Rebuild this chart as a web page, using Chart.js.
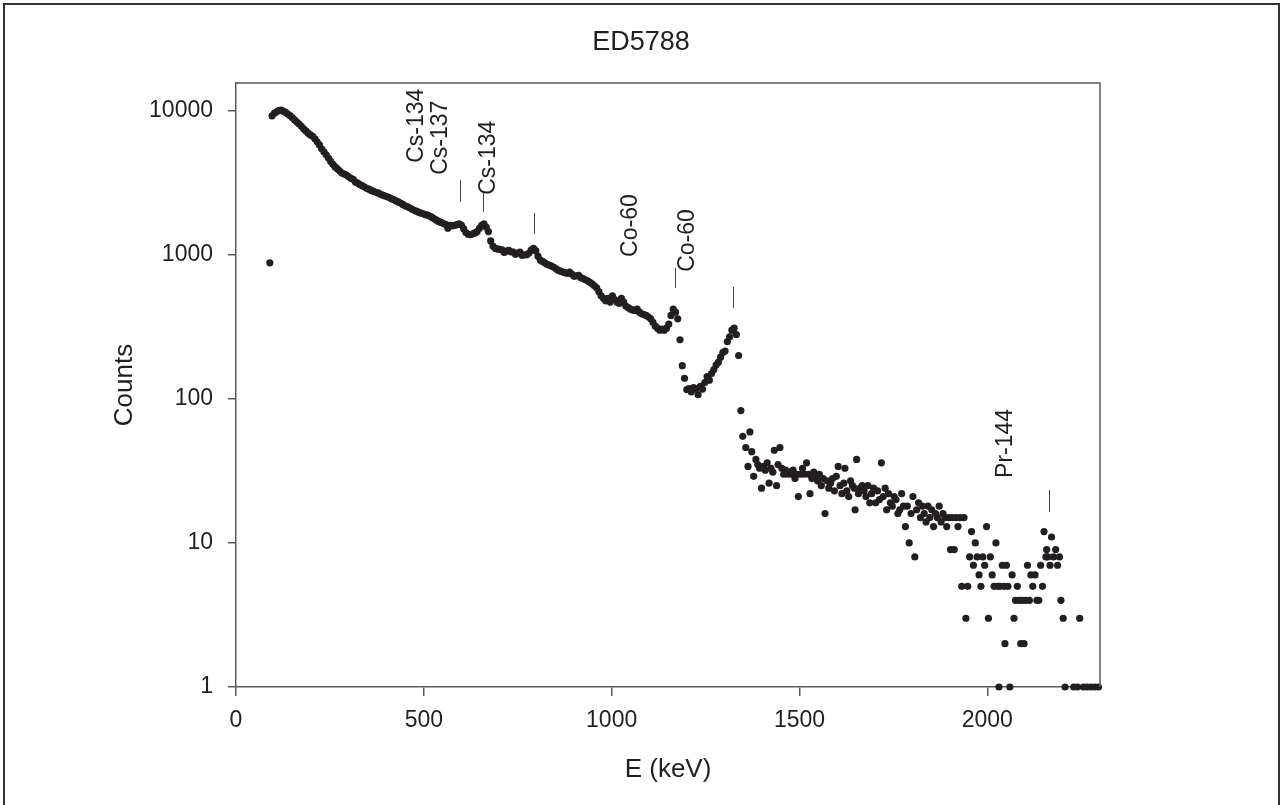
<!DOCTYPE html>
<html>
<head>
<meta charset="utf-8">
<title>ED5788</title>
<script src="https://cdn.jsdelivr.net/npm/chart.js@4.4.1/dist/chart.umd.min.js"></script>
<style>
  html, body { margin: 0; padding: 0; background: #fff; }
  #chart { display: block; }
</style>
</head>
<body>
<canvas id="chart" width="1282" height="805"></canvas>
<script>
// spectrum: energy (keV) and counts per channel
const continuumE = [
  90, 96, 102, 108, 114, 120, 126, 132, 138, 144, 150,
  156, 162, 168, 174, 180, 186, 192, 198, 204, 210,
  216, 222, 228, 234, 240, 246, 252, 258, 264, 270,
  276, 282, 288, 294, 300, 306, 312, 318, 324, 330,
  336, 342, 348, 354, 360, 366, 372, 378, 384, 390,
  396, 402, 408, 414, 420, 426, 432, 438, 444, 450,
  456, 462, 468, 474, 480, 486, 492, 498, 504, 510,
  516, 522, 528, 534, 540, 546, 552, 558, 564, 570,
  576, 582, 588, 594, 600, 606, 612, 618, 624, 630,
  636, 642, 648, 654, 660, 666, 672, 678, 684, 690,
  696, 702, 708, 714, 720, 726, 732, 738, 744, 750,
  756, 762, 768, 774, 780, 786, 792, 798, 804, 810,
  816, 822, 828, 834, 840, 846, 852, 858, 864, 870,
  876, 882, 888, 894, 900, 906, 912, 918, 924, 930,
  936, 942, 948, 954, 960, 966, 972, 978, 984, 990,
  996, 1002, 1008, 1014, 1020, 1026, 1032, 1038, 1044, 1050,
  1056, 1062, 1068, 1074, 1080, 1086, 1092, 1098, 1104, 1110,
  1116, 1122, 1128, 1134, 1140, 1146, 1152, 1158, 1164, 1170,
  1176
];
const continuumCounts = [
  880, 9230, 9600, 9850, 10050, 10100, 9950, 9750, 9500, 9250, 8950,
  8650, 8350, 8100, 7800, 7500, 7250, 7000, 6800, 6650, 6400,
  6100, 5800, 5450, 5200, 4950, 4700, 4450, 4250, 4080, 3950,
  3820, 3700, 3640, 3580, 3480, 3400, 3350, 3200, 3150, 3080,
  3020, 2960, 2900, 2860, 2800, 2760, 2720, 2690, 2640, 2600,
  2570, 2540, 2500, 2450, 2420, 2370, 2330, 2290, 2240, 2190,
  2160, 2120, 2080, 2040, 2010, 1980, 1950, 1930, 1900, 1890,
  1860, 1820, 1780, 1740, 1700, 1680, 1650, 1630, 1530, 1600,
  1590, 1600, 1620, 1640, 1610, 1520, 1430, 1390, 1380, 1400,
  1420, 1450, 1530, 1600, 1640, 1560, 1450, 1250, 1150, 1110,
  1100, 1090, 1085, 1040, 1060, 1075, 1050, 1045, 1010, 1030,
  1045, 990, 1000, 1000, 1030, 1080, 1110, 1070, 980, 920,
  900, 880, 860, 850, 835, 820, 800, 780, 770, 760,
  750, 745, 760, 735, 710, 715, 720, 695, 685, 672,
  660, 645, 630, 610, 590, 555, 520, 500, 480, 500,
  470, 520, 490, 470, 460, 500, 470, 440, 430, 420,
  415, 410, 420, 400, 390, 385, 380, 370, 360, 340,
  320, 310, 300, 305, 300, 310, 330, 380, 420, 400,
  360
];

const valleyE = [
  1182, 1188, 1194, 1200, 1206, 1212, 1218, 1224, 1230, 1236,
  1242, 1248, 1254, 1260, 1266, 1272, 1278, 1284, 1290, 1296,
  1302, 1308, 1314, 1320, 1326, 1332, 1338, 1344
];
const valleyCounts = [
  257, 170, 139, 116, 118, 112, 120, 118, 107, 122,
  117, 130, 143, 135, 150, 160, 172, 180, 195, 210,
  215, 250, 270, 300, 310, 280, 200, 83
];

const tailE = [
  1349, 1357, 1363, 1368, 1373, 1378, 1384, 1389, 1394, 1399,
  1404, 1409, 1414, 1419, 1424, 1429, 1433, 1439, 1443, 1448,
  1453, 1458, 1463, 1468, 1473, 1478, 1483, 1488, 1493, 1497,
  1503, 1508, 1513, 1519, 1524, 1528, 1533, 1538, 1543, 1548,
  1553, 1558, 1563, 1568, 1573, 1578, 1583, 1588, 1593, 1598,
  1603, 1608, 1613, 1618, 1621, 1626, 1631, 1636, 1641, 1646,
  1648, 1652, 1657, 1662, 1667, 1672, 1677, 1682, 1687, 1692,
  1697, 1703, 1708, 1713, 1718, 1723, 1728, 1732, 1737, 1742,
  1747, 1752, 1757, 1762, 1767, 1772, 1777, 1782, 1787, 1792,
  1797, 1802, 1807, 1812, 1817, 1822, 1827, 1832, 1837, 1842,
  1847, 1852, 1857, 1862, 1867, 1872, 1877, 1882, 1887, 1892,
  1897, 1902, 1907, 1912, 1917, 1922, 1927, 1932, 1938, 1943,
  1948, 1953, 1958, 1963, 1968, 1973, 1978, 1983, 1988, 1993,
  1998, 2003, 2008, 2013, 2018, 2023, 2028, 2031, 2034, 2040,
  2045, 2047, 2051, 2055, 2060, 2066, 2071, 2075, 2080, 2085,
  2089, 2093, 2098, 2102, 2107, 2112, 2116, 2121, 2127, 2132,
  2137, 2142, 2147, 2151, 2156, 2158, 2161, 2167, 2171, 2176,
  2182, 2187, 2192, 2196, 2202, 2207, 2230, 2240, 2246, 2256,
  2266, 2276, 2286, 2296
];
const tailCounts = [
  55, 46, 34, 59, 43, 29, 38, 35, 33, 24,
  34, 32, 36, 26, 33, 31, 44, 25, 35, 46,
  33, 30, 32, 30, 31, 30, 32, 28, 30, 21,
  30, 33, 30, 36, 30, 22, 28, 31, 29, 27,
  30, 25, 28, 16, 27, 24, 26, 28, 23, 29,
  34, 25, 22, 26, 33, 23, 21, 27, 25, 24,
  17, 38, 22, 24, 25, 23, 21, 25, 19, 22,
  24, 19, 23, 20, 36, 21, 24, 17, 22, 19,
  18, 21, 20, 16, 17, 22, 18, 13, 18, 10,
  16, 21, 8, 17, 19, 15, 18, 16, 14, 18,
  15, 17, 13, 16, 15, 18, 14, 16, 15, 13,
  15, 9, 15, 9, 15, 13, 15, 5, 15, 3,
  5, 8, 12, 7, 10, 8, 6, 5, 8, 7,
  13, 3, 8, 6, 5, 10, 5, 1, 5, 7,
  5, 2, 7, 5, 1, 6, 3, 4, 5, 4,
  2, 4, 2, 4, 7, 4, 6, 5, 6, 4,
  4, 7, 5, 12, 8, 9, 8, 7, 11, 8,
  9, 7, 8, 4, 3, 1, 1, 1, 3, 1,
  1, 1, 1, 1
];

// peak markers: short vertical bars and the rotated nuclide labels
const markE = [596, 658, 793, 1169, 1323, 2165];
const markTop = [3318, 2697, 1959, 812, 600, 23.3];
const markBottom = [2334, 1990, 1399, 590, 429, 16.4];
const labelText = ['Cs-134', 'Cs-137', 'Cs-134', 'Co-60', 'Co-60', 'Pr-144'];
const labelE = [482, 546, 673, 1051, 1203, 2050];
const labelBase = [4355, 3594, 2611, 968, 762, 28.3];

const xTicks = [0, 500, 1000, 1500, 2000];
const yTicks = [1, 10, 100, 1000, 10000];

const ink = '#231f20';
const axisGrey = '#5a5a5a';
const family = 'Helvetica, Arial, "Liberation Sans", sans-serif';

const points = [];
[[continuumE, continuumCounts], [valleyE, valleyCounts], [tailE, tailCounts]].forEach(([es, cs]) => {
    es.forEach((e, i) => points.push({ x: e, y: cs[i] }));
});

const framePlugin = {
    id: 'frame',
    beforeDraw(chart) {
        const { ctx, width, height } = chart;
        ctx.save();
        ctx.fillStyle = '#fff';
        ctx.fillRect(0, 0, width, height);
        ctx.restore();
    },
    afterDraw(chart) {
        const { ctx, chartArea: a, width, height } = chart;
        ctx.save();
        ctx.strokeStyle = axisGrey;
        ctx.lineWidth = 1.5;
        ctx.beginPath();
        ctx.moveTo(a.left, a.top);
        ctx.lineTo(a.right, a.top);
        ctx.lineTo(a.right, a.bottom);
        ctx.stroke();
        // outer figure frame
        ctx.strokeStyle = '#333';
        ctx.lineWidth = 2;
        ctx.beginPath();
        ctx.moveTo(4, height);
        ctx.lineTo(4, 4);
        ctx.lineTo(width - 3, 4);
        ctx.lineTo(width - 3, height);
        ctx.stroke();
        ctx.restore();
    }
};

const peakPlugin = {
    id: 'peaks',
    afterDatasetsDraw(chart) {
        const { ctx, scales: { x, y } } = chart;
        ctx.save();
        ctx.strokeStyle = '#444';
        ctx.lineWidth = 1;
        markE.forEach((e, i) => {
            const px = Math.round(x.getPixelForValue(e)) + 0.5;
            ctx.beginPath();
            ctx.moveTo(px, y.getPixelForValue(markTop[i]));
            ctx.lineTo(px, y.getPixelForValue(markBottom[i]));
            ctx.stroke();
        });
        ctx.fillStyle = ink;
        ctx.font = '23px ' + family;
        ctx.textAlign = 'left';
        ctx.textBaseline = 'middle';
        labelText.forEach((t, i) => {
            ctx.save();
            ctx.translate(x.getPixelForValue(labelE[i]), y.getPixelForValue(labelBase[i]));
            ctx.rotate(-Math.PI / 2);
            ctx.fillText(t, 0, 0);
            ctx.restore();
        });
        ctx.restore();
    }
};

new Chart(document.getElementById('chart'), {
    type: 'scatter',
    data: {
        datasets: [{
            data: points,
            backgroundColor: ink,
            borderWidth: 0,
            pointRadius: 3.6,
            pointHoverRadius: 3.6,
            clip: false
        }]
    },
    options: {
        responsive: false,
        devicePixelRatio: 1,
        animation: false,
        events: [],
        layout: { padding: 0 },
        plugins: {
            legend: { display: false },
            tooltip: { enabled: false },
            title: {
                display: true,
                text: 'ED5788',
                color: ink,
                font: { family, size: 27, weight: 'normal' },
                padding: { top: 26, bottom: 24.6 }
            }
        },
        scales: {
            x: {
                type: 'linear',
                min: 0,
                max: 2300,
                afterBuildTicks: s => { s.ticks = xTicks.map(v => ({ value: v })); },
                afterFit: s => { s.height = 118; },
                grid: { drawOnChartArea: false, drawTicks: true, tickLength: 9, color: axisGrey, lineWidth: 1.5 },
                border: { display: true, color: axisGrey, width: 1.5 },
                ticks: { color: ink, font: { family, size: 23 }, padding: 11, maxRotation: 0, autoSkip: false, callback: v => String(v) },
                title: { display: true, text: 'E (keV)', color: ink, font: { family, size: 26 }, padding: { top: 0, bottom: 20 } }
            },
            y: {
                type: 'logarithmic',
                min: 1,
                max: 15600,
                afterBuildTicks: s => { s.ticks = yTicks.map(v => ({ value: v })); },
                afterFit: s => { s.width = 236; },
                grid: { drawOnChartArea: false, drawTicks: true, tickLength: 8, color: axisGrey, lineWidth: 1.5 },
                border: { display: true, color: axisGrey, width: 1.5 },
                ticks: { color: ink, font: { family, size: 23 }, padding: 15, autoSkip: false, callback: v => String(v) },
                title: { display: true, text: 'Counts', color: ink, font: { family, size: 26 }, padding: { top: 109, bottom: 0 } }
            },
            // empty right-hand axis that only reserves the white margin right of the plot
            gutter: {
                type: 'linear',
                position: 'right',
                display: true,
                grid: { display: false },
                border: { display: false },
                ticks: { display: false },
                afterFit: s => { s.width = 182; }
            }
        }
    },
    plugins: [framePlugin, peakPlugin]
});
</script>
</body>
</html>
